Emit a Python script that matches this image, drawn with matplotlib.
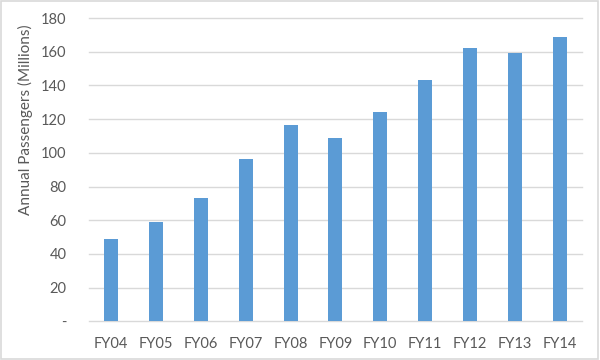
import matplotlib.pyplot as plt
from matplotlib.patches import Rectangle
from matplotlib.ticker import FuncFormatter

# -------------------------
# Data
# -------------------------
years = ["FY04", "FY05", "FY06", "FY07", "FY08", "FY09",
         "FY10", "FY11", "FY12", "FY13", "FY14"]
passengers = [49.1, 59.2, 73.3, 96.4, 116.6, 108.9,
              124.0, 143.4, 162.4, 159.4, 168.9]
y_ticks = [0, 20, 40, 60, 80, 100, 120, 140, 160, 180]

plt.rcParams["font.family"] = ["Lato", "DejaVu Sans"]
text_color = "#595959"
grid_color = "#d9d9d9"

fig = plt.figure(figsize=(6, 3.6), dpi=100)
ax = fig.add_axes([0.148, 0.1075, 0.822, 0.8425])

ax.bar(range(len(years)), passengers, width=0.31, color="#5B9BD5", zorder=3)

ax.set_xlim(-0.5, len(years) - 0.5)
ax.set_ylim(0, 180)
ax.set_yticks(y_ticks)
ax.yaxis.set_major_formatter(FuncFormatter(lambda v, p: "-" if v == 0 else f"{v:.0f}"))
ax.set_xticks(range(len(years)))
ax.set_xticklabels(years)

ax.grid(axis="y", color=grid_color, linewidth=1, zorder=0, clip_on=False)
for s in ax.spines.values():
    s.set_visible(False)
ax.tick_params(axis="both", length=0, labelsize=10.5, colors=text_color)
ax.tick_params(axis="x", pad=11)
ax.tick_params(axis="y", pad=16)

ax.set_ylabel("Annual Passengers (Millions)", fontsize=11, color=text_color)
ax.yaxis.set_label_coords(-0.113, 0.664)

# light frame around the chart
fig.patches.append(Rectangle((0.002, 0.003), 0.995, 0.993, transform=fig.transFigure,
                             fill=False, edgecolor=grid_color, linewidth=1.2))

plt.savefig("out.png", dpi=100)
plt.close()
